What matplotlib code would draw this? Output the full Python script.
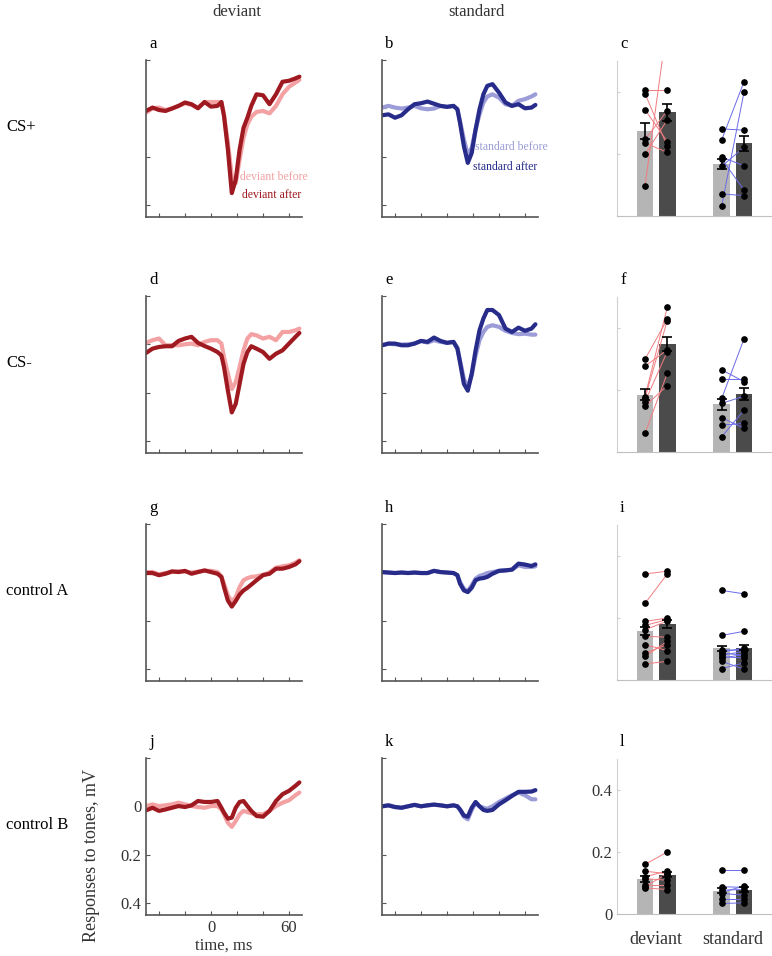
import numpy as np
import matplotlib
matplotlib.use('Agg')
import matplotlib.pyplot as plt

plt.rcParams['font.family'] = ['Liberation Serif', 'DejaVu Serif']

# time axis of the averaged responses, ms
t = [-50, -45, -40, -35, -30, -25, -20, -15, -10, -5, 0, 5, 8, 10, 13, 16, 19,
     22, 25, 28, 31, 35, 40, 45, 50, 55, 60, 65, 68]

# responses, mV (positive values are plotted downward)
a_before = [0.018, 0.000, -0.003, 0.007, 0.000, -0.010, -0.021, -0.014, -0.003, -0.026, -0.026, -0.026, -0.024, 0.025,
            0.143, 0.282, 0.310, 0.213, 0.122, 0.067, 0.035, 0.015, 0.011, 0.021, -0.010, -0.058, -0.089, -0.107, -0.118]
a_after = [0.011, -0.003, 0.007, 0.011, 0.001, -0.010, -0.024, -0.017, 0.000, -0.026, -0.007, -0.010, -0.026, 0.032,
           0.171, 0.351, 0.296, 0.171, 0.081, 0.039, -0.010, -0.058, -0.054, -0.017, -0.058, -0.110, -0.114, -0.124, -0.131]
b_before = [-0.003, -0.010, -0.003, 0.001, -0.003, -0.010, 0.000, 0.004, 0.001, -0.010, -0.006, -0.010, 0.004, 0.053,
            0.129, 0.192, 0.164, 0.088, 0.025, -0.024, -0.049, -0.058, -0.044, -0.017, -0.010, -0.031, -0.038, -0.049, -0.058]
b_after = [0.029, 0.025, 0.039, 0.029, 0.004, -0.017, -0.021, -0.028, -0.019, -0.010, -0.006, -0.010, 0.004, 0.060,
           0.157, 0.226, 0.185, 0.088, 0.004, -0.058, -0.093, -0.100, -0.065, -0.024, -0.010, -0.017, 0.000, -0.003, -0.014]
d_before = [-0.006, -0.017, -0.024, 0.004, 0.004, 0.004, 0.000, -0.003, 0.004, -0.010, -0.017, -0.017, -0.003, 0.053,
            0.122, 0.185, 0.157, 0.094, 0.025, -0.024, -0.042, -0.037, -0.024, -0.031, -0.017, -0.051, -0.051, -0.058, -0.065]
d_after = [0.036, 0.018, 0.011, 0.008, 0.008, -0.014, -0.024, -0.031, -0.006, 0.007, 0.018, 0.032, 0.046, 0.094,
           0.192, 0.282, 0.247, 0.164, 0.081, 0.032, 0.008, 0.018, 0.032, 0.060, 0.039, 0.025, -0.003, -0.031, -0.047]
e_before = [0.004, -0.003, 0.000, 0.001, 0.000, -0.003, -0.014, -0.007, -0.017, -0.010, -0.006, -0.010, 0.014, 0.067,
            0.143, 0.178, 0.129, 0.046, -0.017, -0.051, -0.072, -0.079, -0.072, -0.056, -0.047, -0.042, -0.044, -0.040, -0.040]
e_after = [0.004, -0.003, -0.003, 0.004, 0.004, -0.003, -0.014, -0.010, -0.028, -0.014, -0.006, -0.010, 0.018, 0.074,
           0.164, 0.192, 0.122, 0.025, -0.058, -0.107, -0.142, -0.142, -0.121, -0.065, -0.051, -0.069, -0.056, -0.065, -0.083]
g_before = [-0.001, -0.001, 0.008, 0.003, -0.001, -0.004, -0.003, 0.001, -0.003, -0.006, -0.006, -0.001, 0.017, 0.047,
            0.096, 0.121, 0.103, 0.061, 0.033, 0.024, 0.019, 0.017, 0.010, 0.001, -0.019, -0.025, -0.029, -0.040, -0.050]
g_after = [0.003, 0.003, 0.012, 0.006, -0.004, -0.001, -0.006, 0.006, -0.001, -0.008, -0.001, 0.006, 0.019, 0.061,
           0.117, 0.142, 0.119, 0.092, 0.075, 0.064, 0.051, 0.033, 0.012, 0.006, -0.015, -0.015, -0.022, -0.033, -0.046]
h_before = [-0.001, 0.001, 0.003, 0.001, 0.003, 0.001, 0.003, 0.003, -0.006, -0.001, 0.001, 0.003, 0.012, 0.040,
            0.068, 0.078, 0.054, 0.026, 0.015, 0.010, 0.003, -0.001, -0.006, -0.008, -0.011, -0.029, -0.022, -0.022, -0.025]
h_after = [-0.001, 0.001, 0.003, 0.001, 0.003, 0.001, 0.003, 0.003, -0.006, -0.001, 0.001, 0.003, 0.012, 0.047,
           0.075, 0.082, 0.064, 0.033, 0.026, 0.024, 0.019, 0.006, -0.006, -0.008, -0.011, -0.036, -0.032, -0.026, -0.033]
j_before = [-0.001, -0.008, -0.001, -0.004, -0.008, -0.015, -0.008, -0.001, 0.003, 0.006, -0.001, -0.001, 0.013, 0.033,
            0.068, 0.085, 0.061, 0.033, 0.019, 0.024, 0.029, 0.033, 0.033, 0.019, -0.001, -0.015, -0.025, -0.046, -0.057]
j_after = [0.017, 0.006, 0.019, 0.013, 0.006, -0.001, 0.003, -0.004, -0.022, -0.018, -0.018, -0.022, 0.006, 0.026,
           0.051, 0.047, 0.006, -0.018, -0.022, -0.001, 0.019, 0.040, 0.043, 0.019, -0.022, -0.050, -0.064, -0.085, -0.099]
k_before = [0.000, -0.004, 0.003, 0.006, 0.000, -0.006, 0.000, -0.004, -0.007, -0.004, 0.000, -0.004, 0.000, 0.015,
            0.043, 0.054, 0.015, -0.015, 0.000, 0.006, 0.010, 0.000, -0.018, -0.032, -0.046, -0.057, -0.046, -0.029, -0.029]
k_after = [0.000, -0.004, 0.003, 0.006, 0.000, -0.006, 0.000, -0.004, -0.007, -0.004, 0.000, -0.004, 0.000, 0.013,
           0.038, 0.043, 0.006, -0.018, 0.000, 0.015, 0.019, 0.015, -0.008, -0.025, -0.043, -0.060, -0.060, -0.061, -0.067]

# single animals, mV: deviant before / after, standard before / after
c_dev_before = [0.405, 0.395, 0.343, 0.247, 0.236, 0.199, 0.097]
c_dev_after = [0.405, 0.225, 0.240, 0.340, 0.205, 0.310, 0.620]
c_std_before = [0.281, 0.246, 0.190, 0.184, 0.160, 0.071, 0.033]
c_std_after = [0.277, 0.433, 0.162, 0.084, 0.222, 0.066, 0.399]
c_sem = [0.027, 0.027, 0.016, 0.024]

f_dev_before = [0.299, 0.277, 0.178, 0.173, 0.162, 0.148, 0.060]
f_dev_after = [0.428, 0.329, 0.467, 0.424, 0.324, 0.214, 0.254]
f_std_before = [0.265, 0.234, 0.173, 0.157, 0.111, 0.087, 0.049]
f_std_after = [0.227, 0.234, 0.365, 0.180, 0.076, 0.092, 0.135]
f_sem = [0.017, 0.024, 0.017, 0.018]

i_dev_before = [0.342, 0.247, 0.189, 0.176, 0.162, 0.141, 0.114, 0.087, 0.076, 0.052]
i_dev_after = [0.351, 0.342, 0.200, 0.195, 0.190, 0.138, 0.095, 0.114, 0.125, 0.060]
i_std_before = [0.289, 0.144, 0.098, 0.090, 0.087, 0.080, 0.075, 0.071, 0.060, 0.037]
i_std_after = [0.278, 0.157, 0.095, 0.103, 0.080, 0.092, 0.071, 0.082, 0.035, 0.055]
i_sem = [0.012, 0.012, 0.008, 0.008]

l_dev_before = [0.160, 0.138, 0.120, 0.114, 0.095, 0.088, 0.084]
l_dev_after = [0.200, 0.130, 0.139, 0.109, 0.095, 0.130, 0.079]
l_std_before = [0.143, 0.088, 0.077, 0.070, 0.066, 0.050, 0.034]
l_std_after = [0.143, 0.086, 0.079, 0.090, 0.061, 0.050, 0.036]
l_sem = [0.010, 0.008, 0.008, 0.008]

W, H = 772, 956
fig = plt.figure(figsize=(W / 100, H / 100), dpi=100)


def box(left, top, w, h):
    return [left / W, 1 - (top + h) / H, w / W, h / H]


col_left = [146, 382, 617]
col_w = [156, 156, 155]
row_top = [60, 296, 524, 758]
row_h = 157

dark_red, pink = '#9e1a20', '#f3a1a3'
dark_blue, light_blue = '#272c8b', '#9c9cd8'


def trace_axes(ax, before, after, c_before, c_after):
    ax.plot(t, before, color=c_before, lw=3, solid_capstyle='round', solid_joinstyle='round')
    ax.plot(t, after, color=c_after, lw=3, solid_capstyle='round', solid_joinstyle='round')
    ax.set_xlim(-50, 70)
    ax.set_ylim(0.45, -0.2)
    ax.set_xticks([-40, -20, 0, 20, 40, 60])
    ax.set_yticks([-0.2, 0, 0.2, 0.4])
    ax.set_xticklabels([])
    ax.set_yticklabels([])
    for s in ['top', 'right']:
        ax.spines[s].set_visible(False)
    for s in ['left', 'bottom']:
        ax.spines[s].set_color('#555555')
        ax.spines[s].set_linewidth(1.2)
    ax.tick_params(direction='in', length=3, width=0.8, color='#555555', labelsize=12, labelcolor='#333333')


def bar_axes(ax, dev_b, dev_a, std_b, std_a, sem):
    pos = [0.855, 1.145, 1.855, 2.145]
    groups = [dev_b, dev_a, std_b, std_a]
    means = [np.mean(g) for g in groups]
    ax.bar(pos, means, width=0.22, color=['#b5b5b5', '#4b4b4b', '#b5b5b5', '#4b4b4b'], zorder=1)
    for b, a in zip(dev_b, dev_a):
        ax.plot([pos[0], pos[1]], [b, a], color='#f07c80', lw=0.7, zorder=2)
    for b, a in zip(std_b, std_a):
        ax.plot([pos[2], pos[3]], [b, a], color='#6a6ae8', lw=0.7, zorder=2)
    for p, g in zip(pos, groups):
        ax.plot([p] * len(g), g, 'o', color='black', ms=3.8, zorder=3)
    ax.errorbar(pos, means, yerr=sem, fmt='none', ecolor='black', elinewidth=1.2, capsize=3.5, capthick=1.2, zorder=4)
    ax.set_xlim(0.49, 2.51)
    ax.set_ylim(0, 0.5)
    ax.set_yticks([0, 0.2, 0.4])
    ax.set_yticklabels([])
    ax.set_xticks([1, 2])
    ax.set_xticklabels([])
    for s in ['top', 'right']:
        ax.spines[s].set_visible(False)
    ax.spines['left'].set_color('#d0d0d0')
    ax.spines['bottom'].set_color('#c0c0c0')
    ax.tick_params(axis='y', direction='in', length=2, color='#d0d0d0', labelsize=12, labelcolor='#333333')
    ax.tick_params(axis='x', length=0, labelsize=13, labelcolor='#333333', pad=12)


traces = [(a_before, a_after, b_before, b_after),
          (d_before, d_after, e_before, e_after),
          (g_before, g_after, h_before, h_after),
          (j_before, j_after, k_before, k_after)]
bars = [(c_dev_before, c_dev_after, c_std_before, c_std_after, c_sem),
        (f_dev_before, f_dev_after, f_std_before, f_std_after, f_sem),
        (i_dev_before, i_dev_after, i_std_before, i_std_after, i_sem),
        (l_dev_before, l_dev_after, l_std_before, l_std_after, l_sem)]
letters = ['abc', 'def', 'ghi', 'jkl']
row_names = ['CS+', 'CS-', 'control A', 'control B']

for r in range(4):
    ax1 = fig.add_axes(box(col_left[0], row_top[r], col_w[0], row_h))
    trace_axes(ax1, traces[r][0], traces[r][1], pink, dark_red)
    ax2 = fig.add_axes(box(col_left[1], row_top[r], col_w[1], row_h))
    trace_axes(ax2, traces[r][2], traces[r][3], light_blue, dark_blue)
    ax3 = fig.add_axes(box(col_left[2], row_top[r] + 1, col_w[2], row_h - 2))
    bar_axes(ax3, *bars[r])
    for c in range(3):
        fig.text((col_left[c] + 3) / W, 1 - (row_top[r] - 16) / H, letters[r][c],
                 fontsize=12, ha='left', va='center')
    fig.text(6 / W, 1 - (row_top[r] + 67) / H, row_names[r], fontsize=12, ha='left', va='center')
    if r == 0:
        ax1.text(22, 0.283, 'deviant before', color=pink, fontsize=8.5, va='center', clip_on=False)
        ax1.text(24, 0.358, 'deviant after', color=dark_red, fontsize=8.5, va='center', clip_on=False)
        ax2.text(21.5, 0.162, 'standard before', color=light_blue, fontsize=8.5, va='center', clip_on=False)
        ax2.text(20, 0.242, 'standard after', color=dark_blue, fontsize=8.5, va='center', clip_on=False)
    if r == 3:
        ax1.set_xticklabels(['', '', '0', '', '', '60'])
        ax1.set_yticklabels(['', '0', '0.2', '0.4'])
        ax1.set_xlabel('time, ms', fontsize=12, color='#333333', labelpad=1)
        ax3.set_yticklabels(['0', '0.2', '0.4'])
        ax3.set_xticklabels(['deviant', 'standard'])

fig.text(91 / W, 1 - 855 / H, 'Responses to tones, mV', rotation=90, fontsize=13,
         ha='center', va='center', color='#333333')
fig.text(237 / W, 1 - 12 / H, 'deviant', fontsize=12, ha='center', va='center', color='#333333')
fig.text(476 / W, 1 - 12 / H, 'standard', fontsize=12, ha='center', va='center', color='#333333')

fig.savefig('out.png', dpi=100)
